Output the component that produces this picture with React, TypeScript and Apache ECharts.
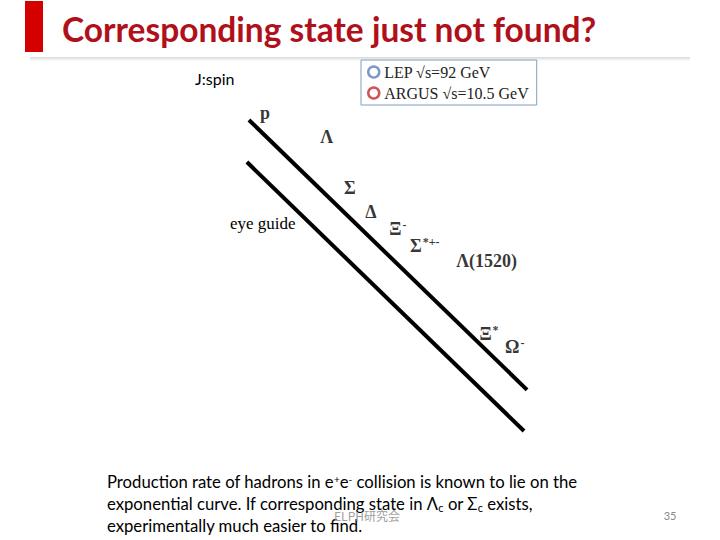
import React, { useEffect, useRef } from "react";
import * as echarts from "echarts";

// Eye-guide lines: x = hadron mass (GeV), y = log10 production rate (arb.)
const upperLineX = [0.891, 1.709];
const upperLineY = [0.765, -2.41];
const lowerLineX = [0.885, 1.7];
const lowerLineY = [0.27, -2.894];

// Particle labels
const particleBase = ["p", "Λ", "Σ", "Δ", "Ξ", "Σ", "Λ(1520)", "Ξ", "Ω"];
const particleSup = ["", "", "", "", "-", "*+-", "", "*", "-"];
const particleX = [0.938, 1.12, 1.188, 1.25, 1.329, 1.408, 1.59, 1.597, 1.673];
const particleY = [0.847, 0.565, -0.035, -0.318, -0.52, -0.72, -0.894, -1.753, -1.906];

const legendNames = ["LEP √s=92 GeV", "ARGUS √s=10.5 GeV"];
const legendColors = ["#5a80b8", "#c0282d"];

const titleText = "Corresponding state just not found?";
const bodyLines = [
  "Production rate of hadrons in e{sup|+}e{sup|-} collision is known to lie on the",
  "exponential curve. If corresponding state in Λ{sub|c} or Σ{sub|c} exists,",
  "experimentally much easier to find.",
];

export default function App() {
  const ref = useRef<HTMLDivElement>(null);
  useEffect(() => {
    if (!ref.current) return;
    const chart = echarts.init(ref.current, undefined, { renderer: "svg" });
    const labelData = particleX.map((x, i) => ({
      value: [x, particleY[i]],
      base: particleBase[i],
      sup: particleSup[i],
    }));
    const serif = "'Liberation Serif', 'DejaVu Serif', serif";
    const sans = "Lato, 'Noto Sans', sans-serif";
    chart.setOption({
      animation: false,
      backgroundColor: "#ffffff",
      grid: { left: 218, right: 162, top: 100, bottom: 100 },
      xAxis: { type: "value", min: 0.8, max: 1.8, show: false },
      yAxis: { type: "value", min: -3, max: 1, show: false },
      legend: {
        left: 361,
        top: 60,
        orient: "vertical",
        borderColor: "#7f9fbf",
        borderWidth: 1,
        padding: [4, 8, 4, 6],
        itemGap: 5,
        itemWidth: 11,
        itemHeight: 11,
        textStyle: { fontFamily: serif, fontSize: 16, color: "#222" },
        data: legendNames.map((n, i) => ({
          name: n,
          icon: "circle",
          itemStyle: { color: "#ffffff", borderColor: legendColors[i], borderWidth: 2.5 },
        })),
      },
      series: [
        {
          name: "upper",
          type: "line",
          data: upperLineX.map((x, i) => [x, upperLineY[i]]),
          symbol: "none",
          lineStyle: { color: "#000", width: 4 },
          silent: true,
        },
        {
          name: "lower",
          type: "line",
          data: lowerLineX.map((x, i) => [x, lowerLineY[i]]),
          symbol: "none",
          lineStyle: { color: "#000", width: 4 },
          silent: true,
        },
        { name: legendNames[0], type: "scatter", data: [], itemStyle: { color: legendColors[0] } },
        { name: legendNames[1], type: "scatter", data: [], itemStyle: { color: legendColors[1] } },
        {
          name: "labels",
          type: "scatter",
          data: labelData,
          symbolSize: 1,
          itemStyle: { color: "transparent" },
          label: {
            show: true,
            position: "inside",
            formatter: (p: any) =>
              p.data.sup ? `{b|${p.data.base}}{s|${p.data.sup}}` : `{b|${p.data.base}}`,
            rich: {
              b: { fontFamily: serif, fontWeight: "bold", fontSize: 18, color: "#000", lineHeight: 20 },
              s: {
                fontFamily: serif,
                fontWeight: "bold",
                fontSize: 12,
                color: "#000",
                lineHeight: 20,
                verticalAlign: "top",
                padding: [0, 0, 8, 1],
              },
            },
          },
        },
      ],
      graphic: [
        { type: "rect", shape: { x: 25, y: 1, width: 18, height: 51 }, style: { fill: "#d40000" } },
        {
          type: "text",
          x: 62,
          y: 29,
          style: {
            text: titleText,
            font: `bold 33.5px ${sans}`,
            fill: "#b0101a",
            verticalAlign: "middle",
          },
        },
        {
          type: "rect",
          shape: { x: 30, y: 57, width: 660, height: 4 },
          style: {
            fill: new echarts.graphic.LinearGradient(0, 0, 0, 1, [
              { offset: 0, color: "#d8d8d8" },
              { offset: 1, color: "#ffffff" },
            ]),
          },
        },
        {
          type: "text",
          x: 195,
          y: 78,
          style: { text: "J:spin", font: `16px ${sans}`, fill: "#000", verticalAlign: "middle" },
        },
        {
          type: "text",
          x: 230,
          y: 223,
          style: { text: "eye guide", font: `17px ${serif}`, fill: "#000", verticalAlign: "middle" },
        },
        ...bodyLines.map((t, i) => ({
          type: "text",
          x: 107,
          y: 482 + i * 22,
          style: {
            text: t,
            font: `16.7px ${sans}`,
            fill: "#000",
            verticalAlign: "middle",
            rich: {
              sup: { font: `10px ${sans}`, fill: "#000", verticalAlign: "top", padding: [0, 0, 6, 0] },
              sub: { font: `11px ${sans}`, fill: "#000", verticalAlign: "bottom", padding: [6, 0, 0, 0] },
            },
          },
        })),
        {
          type: "text",
          x: 367,
          y: 515,
          style: {
            text: "ELPH研究会",
            font: `12px 'Noto Sans CJK JP', sans-serif`,
            fill: "#a0a0a0",
            align: "center",
            verticalAlign: "middle",
          },
        },
        {
          type: "text",
          x: 670,
          y: 515,
          style: { text: "35", font: `11px ${sans}`, fill: "#8a8a8a", align: "center", verticalAlign: "middle" },
        },
      ],
    });
    return () => chart.dispose();
  }, []);
  return (
    <div
      ref={ref}
      style={{ position: "fixed", left: 0, top: 0, width: 720, height: 540, background: "#fff" }}
    />
  );
}
